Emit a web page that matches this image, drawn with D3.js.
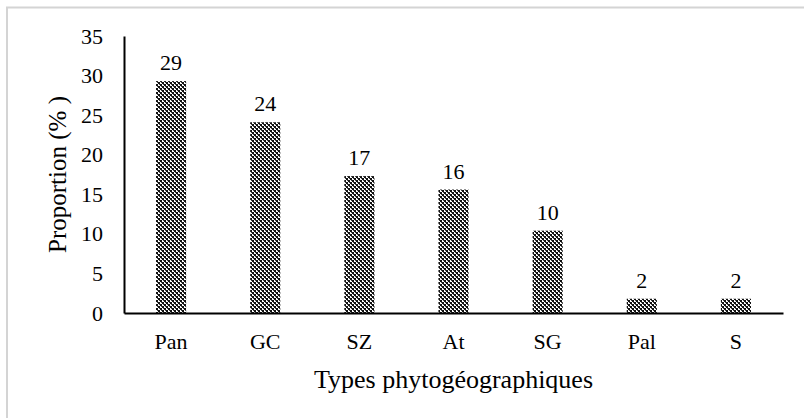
<html>
  <head>
    <meta charset="utf-8">
    <script src="https://d3js.org/d3.v7.min.js"></script>
    <style>
      body { margin: 0; background: #fff; }
      svg { display: block; }
      text { font-family: "Liberation Serif", "Times New Roman", serif; fill: #000; }
    </style>
  </head>
  <body>
    <script>
      // data
      var categories = ["Pan", "GC", "SZ", "At", "SG", "Pal", "S"];
      var proportions = [29.3, 24.1, 17.3, 15.6, 10.4, 1.8, 1.8];
      var valueLabels = ["29", "24", "17", "16", "10", "2", "2"];
      var yTicks = [0, 5, 10, 15, 20, 25, 30, 35];

      var width = 804, height = 418;
      var plotLeft = 124, plotRight = 783, plotTop = 36, plotBottom = 313;

      var svg = d3.select("body").append("svg")
          .attr("width", width).attr("height", height);

      // checker pattern for the bars
      var pat = svg.append("defs").append("pattern")
          .attr("id", "checker")
          .attr("patternUnits", "userSpaceOnUse")
          .attr("width", 4).attr("height", 4);
      pat.append("rect").attr("width", 4).attr("height", 4).attr("fill", "#fff");
      pat.append("rect").attr("x", 0).attr("y", 0).attr("width", 2).attr("height", 2).attr("fill", "#111");
      pat.append("rect").attr("x", 2).attr("y", 2).attr("width", 2).attr("height", 2).attr("fill", "#111");
      pat.append("rect").attr("x", 3).attr("y", 0).attr("width", 1).attr("height", 1).attr("fill", "#444");
      pat.append("rect").attr("x", 1).attr("y", 2).attr("width", 1).attr("height", 1).attr("fill", "#444");

      // chart area border (runs off the right and bottom edges)
      svg.append("rect")
          .attr("x", 7).attr("y", 7.5)
          .attr("width", 830).attr("height", 440)
          .attr("fill", "none")
          .attr("stroke", "#d4d4d4")
          .attr("stroke-width", 2);

      var x = d3.scaleBand().domain(categories).range([plotLeft, plotRight]).paddingInner(0.68).paddingOuter(0.34);
      var y = d3.scaleLinear().domain([0, 35]).range([plotBottom, plotTop]);

      // bars
      svg.selectAll("rect.bar")
          .data(proportions)
          .enter().append("rect")
          .attr("class", "bar")
          .attr("x", function(d, i) { return x(categories[i]); })
          .attr("y", function(d) { return y(d); })
          .attr("width", x.bandwidth())
          .attr("height", function(d) { return y(0) - y(d); })
          .attr("fill", "url(#checker)");

      // value labels
      svg.selectAll("text.val")
          .data(proportions)
          .enter().append("text")
          .attr("class", "val")
          .attr("x", function(d, i) { return x(categories[i]) + x.bandwidth() / 2; })
          .attr("y", function(d) { return y(d) - 11; })
          .attr("text-anchor", "middle")
          .attr("font-size", "22px")
          .text(function(d, i) { return valueLabels[i]; });

      // y axis
      var yAxis = svg.append("g")
          .attr("transform", "translate(" + plotLeft + ",0)")
          .call(d3.axisLeft(y).tickValues(yTicks).tickSize(0).tickPadding(21));
      yAxis.select(".domain").attr("stroke", "#000").attr("stroke-width", 2);
      yAxis.selectAll("text").attr("font-size", "22px")
          .attr("font-family", "Liberation Serif, Times New Roman, serif").attr("fill", "#000");

      // x axis
      var xAxis = svg.append("g")
          .attr("transform", "translate(0," + plotBottom + ")")
          .call(d3.axisBottom(x).tickSize(0).tickPadding(20));
      xAxis.select(".domain").attr("stroke", "#000").attr("stroke-width", 2);
      xAxis.selectAll("text").attr("font-size", "22px")
          .attr("font-family", "Liberation Serif, Times New Roman, serif").attr("fill", "#000");

      // axis titles
      svg.append("text")
          .attr("x", (plotLeft + plotRight) / 2)
          .attr("y", 388)
          .attr("text-anchor", "middle")
          .attr("font-size", "26px")
          .text("Types phytogéographiques");

      svg.append("text")
          .attr("transform", "translate(66," + ((plotTop + plotBottom) / 2) + ") rotate(-90)")
          .attr("text-anchor", "middle")
          .attr("font-size", "25px")
          .text("Proportion (% )");
    </script>
  </body>
</html>
